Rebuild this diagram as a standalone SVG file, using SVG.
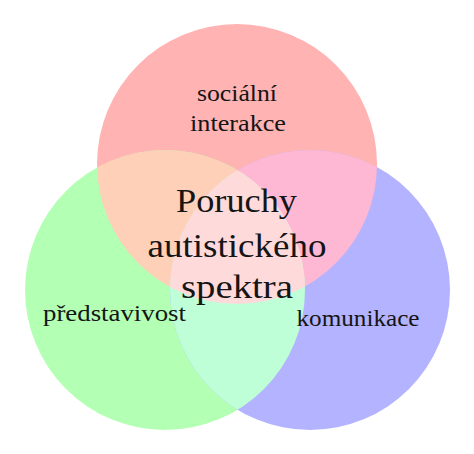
<svg xmlns="http://www.w3.org/2000/svg" width="474" height="454" viewBox="0 0 474 454">
<style>
text{fill:#151515;text-anchor:middle}
.lab{font-size:24px}
.big{font-size:33px}
</style>
<defs>
<clipPath id="cR"><circle cx="237" cy="164" r="140"/></clipPath>
<clipPath id="cG"><circle cx="165" cy="290" r="140"/></clipPath>
<clipPath id="cB"><circle cx="310" cy="290" r="140"/></clipPath>
</defs>
<rect width="474" height="454" fill="#ffffff"/>
<g id="socialni">
<circle cx="237" cy="164" r="140" fill="#ffb3b3"/>
</g>
<g id="predstavivost">
<circle cx="165" cy="290" r="140" fill="#b3ffb3"/>
</g>
<g id="komunikace">
<circle cx="310" cy="290" r="140" fill="#b3b3ff"/>
</g>
<g id="overlaps">
<g clip-path="url(#cR)"><circle cx="165" cy="290" r="140" fill="#ffd0b8"/></g>
<g clip-path="url(#cR)"><circle cx="310" cy="290" r="140" fill="#ffb8d4"/></g>
<g clip-path="url(#cG)"><circle cx="310" cy="290" r="140" fill="#beffd8"/></g>
<g clip-path="url(#cR)"><g clip-path="url(#cG)"><circle cx="310" cy="290" r="140" fill="#ffdada"/></g></g>
</g>
<g id="labels" font-family="Liberation Serif, serif">
<text class="lab" x="237" y="101" textLength="80" lengthAdjust="spacingAndGlyphs">sociální</text>
<text class="lab" x="238" y="131" textLength="96" lengthAdjust="spacingAndGlyphs">interakce</text>
<text class="lab" x="114.5" y="321" textLength="143" lengthAdjust="spacingAndGlyphs">představivost</text>
<text class="lab" x="358" y="326" textLength="123" lengthAdjust="spacingAndGlyphs">komunikace</text>
</g>
<g id="center" font-family="Liberation Serif, serif">
<text class="big" x="236.5" y="212" textLength="121" lengthAdjust="spacingAndGlyphs">Poruchy</text>
<text class="big" x="237" y="257" textLength="179" lengthAdjust="spacingAndGlyphs">autistického</text>
<text class="big" x="237" y="298" textLength="112" lengthAdjust="spacingAndGlyphs">spektra</text>
</g>
</svg>
